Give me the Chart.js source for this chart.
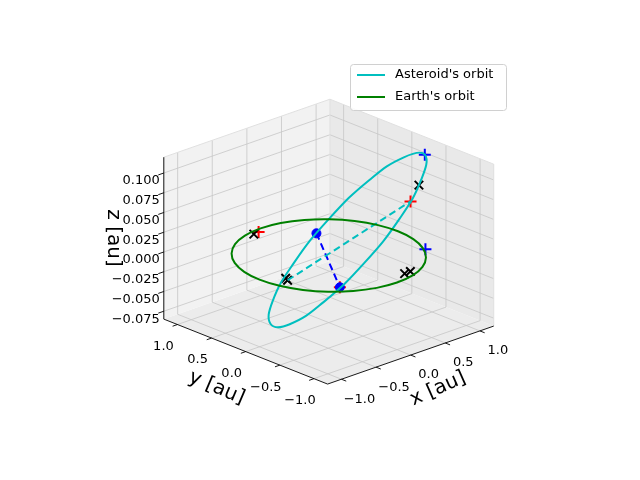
<!DOCTYPE html>
<html>
<head>
<meta charset="utf-8">
<script src="https://cdn.jsdelivr.net/npm/chart.js@4"></script>
<style>
  body { margin: 0; background: #fff; }
  #wrap { width: 640px; height: 480px; }
</style>
</head>
<body>
<div id="wrap"><canvas id="orbitChart" width="640" height="480"></canvas></div>
<script>
// 소행성 궤도 (au)
const asteroidX = [1.19, 1.322, 1.192, 0.815, 0.292, -0.236, -0.63, -0.782, -0.652, -0.275, 0.248, 0.776];
const asteroidY = [-0.2, 0.241, 0.609, 0.817, 0.809, 0.587, 0.21, -0.221, -0.589, -0.797, -0.789, -0.567];
const asteroidZ = [0.098, 0.0756, 0.0386, -0.006, -0.0464, -0.0716, -0.075, -0.0556, -0.0186, 0.026, 0.0664, 0.0916];
// 지구 궤도 (au)
const earthX = [1, 0.966, 0.866, 0.707, 0.5, 0.259, 0, -0.259, -0.5, -0.707, -0.866, -0.966,
  -1, -0.966, -0.866, -0.707, -0.5, -0.259, 0, 0.259, 0.5, 0.707, 0.866, 0.966];
const earthY = [0, 0.259, 0.5, 0.707, 0.866, 0.966, 1, 0.966, 0.866, 0.707, 0.5, 0.259,
  0, -0.259, -0.5, -0.707, -0.866, -0.966, -1, -0.966, -0.866, -0.707, -0.5, -0.259];
// 마커들 [x, y, z]
const blackCross = [[0.231, -0.877, 0], [0.318, -0.873, 0], [-0.772, -0.152, 0], [-0.797, -0.205, 0], [-0.163, 0.933, 0], [0.694, -0.617, 0.089]];
const redPlus = [[-0.53, -0.70, 0], [-0.084, 0.943, 0], [0.467, -0.724, 0.079]];
const bluePlus = [[1.19, -0.2, 0.098], [0.863, -0.541, 0]];
const blueDots = [[0.65, 0.84, -0.0206], [-0.53, -0.70, 0]];
const cyanDash = [[-0.797, -0.205, 0], [0.467, -0.724, 0.079]];
const blueDash = [[0.65, 0.84, -0.0206], [-0.53, -0.70, 0]];
// 축 눈금
const xTicks = [-1.0, -0.5, 0.0, 0.5, 1.0];
const yTicks = [-1.0, -0.5, 0.0, 0.5, 1.0];
const zTicks = [-0.075, -0.05, -0.025, 0.0, 0.025, 0.05, 0.075, 0.1];
const lim = { x0: -1.2, x1: 1.2, y0: -1.2, y1: 1.2, z0: -0.085, z1: 0.12 };

// 3D -> 2D 투영 (화면 좌표값 기준)
function proj(x, y, z) {
  return { x: 329 + 71 * x - 70 * y, y: 256 - 25 * x - 28 * y - 817 * z };
}
// 닫힌 곡선: 앞뒤로 한 점씩 더 붙이고 양 끝 구간은 숨김
function closedLoop(xs, ys, zs) {
  const pts = xs.map((v, i) => proj(v, ys[i], zs ? zs[i] : 0));
  return [pts[pts.length - 1]].concat(pts, [pts[0], pts[1]]);
}
const hideEnds = n => ({
  borderColor: c => (c.p0DataIndex === 0 || c.p1DataIndex === n + 2) ? 'rgba(0,0,0,0)' : undefined
});

const font = "DejaVu Sans";

const axesPlugin = {
  id: 'axes3d',
  beforeDatasetsDraw(chart) {
    const ctx = chart.ctx;
    const sx = chart.scales.x, sy = chart.scales.y;
    const P = (x, y, z) => { const p = proj(x, y, z); return [sx.getPixelForValue(p.x), sy.getPixelForValue(p.y)]; };
    const poly = (pts, fill) => {
      ctx.beginPath();
      pts.forEach((p, i) => { const q = P(...p); i ? ctx.lineTo(q[0], q[1]) : ctx.moveTo(q[0], q[1]); });
      ctx.closePath();
      ctx.fillStyle = fill; ctx.fill();
    };
    const line = (a, b, color, w) => {
      const p = P(...a), q = P(...b);
      ctx.beginPath(); ctx.moveTo(p[0], p[1]); ctx.lineTo(q[0], q[1]);
      ctx.strokeStyle = color; ctx.lineWidth = w; ctx.stroke();
    };
    const { x0, x1, y0, y1, z0, z1 } = lim;
    ctx.save();
    // 패널
    poly([[x0, y0, z0], [x1, y0, z0], [x1, y1, z0], [x0, y1, z0]], '#ececec');
    poly([[x0, y1, z0], [x1, y1, z0], [x1, y1, z1], [x0, y1, z1]], '#f2f2f2');
    poly([[x1, y0, z0], [x1, y1, z0], [x1, y1, z1], [x1, y0, z1]], '#e9e9e9');
    // 그리드
    const g = '#c6c6c6';
    xTicks.forEach(t => { line([t, y0, z0], [t, y1, z0], g, 0.8); line([t, y1, z0], [t, y1, z1], g, 0.8); });
    yTicks.forEach(t => { line([x0, t, z0], [x1, t, z0], g, 0.8); line([x1, t, z0], [x1, t, z1], g, 0.8); });
    zTicks.forEach(t => { line([x0, y1, t], [x1, y1, t], g, 0.8); line([x1, y1, t], [x1, y0, t], g, 0.8); });
    // 패널 테두리
    const e = '#e0e0e0';
    line([x0, y1, z1], [x1, y1, z1], e, 1); line([x1, y1, z1], [x1, y0, z1], e, 1);
    line([x0, y1, z0], [x0, y1, z1], e, 1); line([x1, y0, z0], [x1, y0, z1], e, 1);
    line([x1, y1, z0], [x1, y1, z1], e, 1);
    // 축선
    line([x0, y0, z0], [x1, y0, z0], '#000', 0.9);
    line([x0, y1, z0], [x0, y0, z0], '#000', 0.9);
    line([x0, y1, z0], [x0, y1, z1], '#000', 0.9);
    // 눈금 + 라벨
    ctx.fillStyle = '#000';
    ctx.font = '13px "' + font + '"';
    ctx.textAlign = 'center'; ctx.textBaseline = 'middle';
    const fmt1 = v => v.toFixed(1).replace('-', '\u2212');
    xTicks.forEach(t => {
      line([t, y0, z0], [t, y0 - 0.07, z0], '#000', 0.9);
      const p = P(t, y0, z0); ctx.fillText(fmt1(t), p[0] + 18, p[1] + 20);
    });
    yTicks.forEach(t => {
      line([x0, t, z0], [x0 - 0.07, t, z0], '#000', 0.9);
      const p = P(x0, t, z0); ctx.fillText(fmt1(t), p[0] - 14, p[1] + 22);
    });
    ctx.textAlign = 'right';
    zTicks.forEach(t => {
      line([x0, y1, t], [x0 - 0.08, y1, t], '#000', 0.9);
      const p = P(x0, y1, t); ctx.fillText(t.toFixed(3).replace('-', '\u2212'), p[0] - 4, p[1] + 8);
    });
    // 축 제목
    ctx.font = '20px "' + font + '"';
    ctx.textAlign = 'center';
    const label = (txt, px, py, ang) => {
      ctx.save(); ctx.translate(sx.getPixelForValue(px), sy.getPixelForValue(py)); ctx.rotate(ang * Math.PI / 180);
      ctx.fillText(txt, 0, 0); ctx.restore();
    };
    label('x [au]', 441, 394, -24);
    label('y [au]', 214, 393, 23);
    label('z [au]', 108, 238, 90);
    ctx.restore();
  },
  afterDraw(chart) {
    // 범례
    const ctx = chart.ctx;
    ctx.save();
    ctx.fillStyle = 'rgba(255,255,255,0.85)';
    ctx.strokeStyle = '#d0d0d0'; ctx.lineWidth = 1;
    ctx.beginPath(); ctx.roundRect(350.5, 64.5, 156, 46, 3); ctx.fill(); ctx.stroke();
    [['Asteroid\'s orbit', '#00bfbf', 75], ['Earth\'s orbit', '#008000', 97]].forEach(([t, c, y]) => {
      ctx.strokeStyle = c; ctx.lineWidth = 2;
      ctx.beginPath(); ctx.moveTo(357, y); ctx.lineTo(385, y); ctx.stroke();
      ctx.fillStyle = '#000'; ctx.font = '13px "' + font + '"';
      ctx.textAlign = 'left'; ctx.textBaseline = 'middle';
      ctx.fillText(t, 395, y);
    });
    ctx.restore();
  }
};

const toPts = arr => arr.map(p => proj(p[0], p[1], p[2]));
const markerSet = (arr, style, color, r, w) => ({
  data: toPts(arr), showLine: false, pointStyle: style, pointRadius: r,
  pointBorderColor: color, pointBackgroundColor: color, pointBorderWidth: w
});

new Chart(document.getElementById('orbitChart'), {
  type: 'scatter',
  data: {
    datasets: [
      { data: closedLoop(earthX, earthY), showLine: true, borderColor: '#008000', borderWidth: 2, tension: 0.4, pointRadius: 0, segment: hideEnds(earthX.length) },
      { data: closedLoop(asteroidX, asteroidY, asteroidZ), showLine: true, borderColor: '#00bfbf', borderWidth: 2, tension: 0.45, pointRadius: 0, segment: hideEnds(asteroidX.length) },
      { data: toPts(cyanDash), showLine: true, borderColor: '#00bfbf', borderWidth: 2, borderDash: [7, 4], pointRadius: 0 },
      { data: toPts(blueDash), showLine: true, borderColor: '#0000ff', borderWidth: 2, borderDash: [7, 4], pointRadius: 0 },
      markerSet(blueDots, 'circle', '#0000ff', 4.5, 1),
      markerSet(blackCross, 'crossRot', '#000000', 6, 2),
      markerSet(redPlus, 'cross', '#ff0000', 6, 2),
      markerSet(bluePlus, 'cross', '#0000ff', 6, 2)
    ]
  },
  options: {
    responsive: false,
    animation: false,
    devicePixelRatio: 1,
    layout: { padding: 0 },
    plugins: { legend: { display: false }, tooltip: { enabled: false } },
    scales: {
      x: { type: 'linear', min: 0, max: 640, display: false },
      y: { type: 'linear', min: 0, max: 480, reverse: true, display: false }
    }
  },
  plugins: [axesPlugin]
});
</script>
</body>
</html>
